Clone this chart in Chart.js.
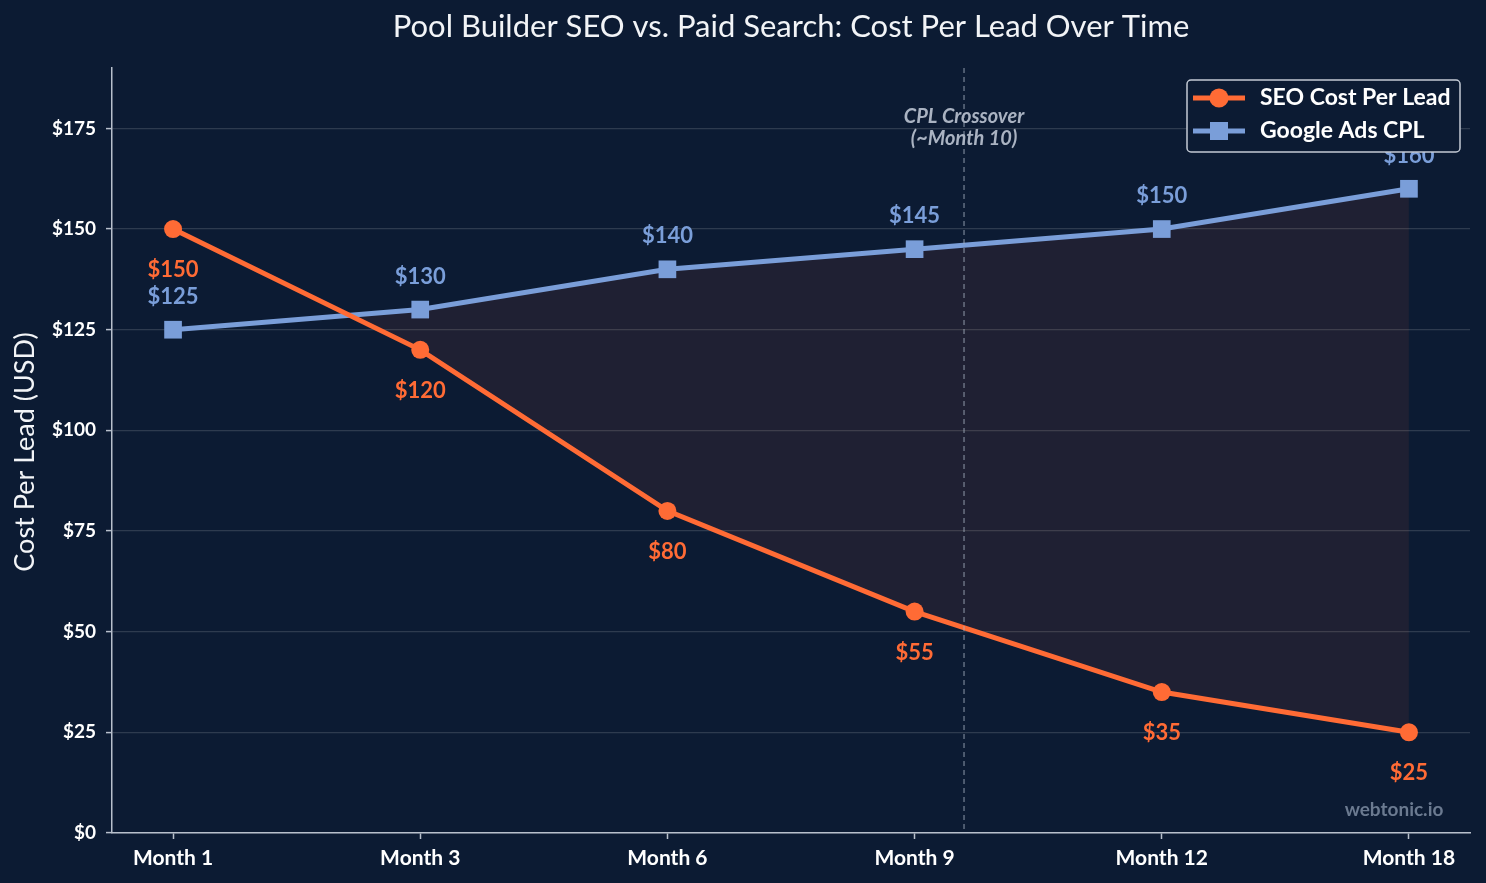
<!DOCTYPE html>
<html>
<head>
<meta charset="utf-8">
<script src="https://cdn.jsdelivr.net/npm/chart.js@4"></script>
<style>
html,body{margin:0;padding:0;background:#0c1b33;}
#wrap{width:1486px;height:883px;position:relative;}
</style>
</head>
<body>
<div id="wrap"><canvas id="c" width="1486" height="883"></canvas></div>
<script>
const categories = ["Month 1", "Month 3", "Month 6", "Month 9", "Month 12", "Month 18"];
const seoCPL = [150, 120, 80, 55, 35, 25];
const adsCPL = [125, 130, 140, 145, 150, 160];
const yTicks = [0, 25, 50, 75, 100, 125, 150, 175];
const crossoverIndex = 3.2;
const titleText = "Pool Builder SEO vs. Paid Search: Cost Per Lead Over Time";
const yAxisTitle = "Cost Per Lead (USD)";
const crossoverLabel = ["CPL Crossover", "(~Month 10)"];
const watermark = "webtonic.io";

const BG = "#0c1b33";
const ORANGE = "#ff6b35";
const BLUE = "#7a9ed9";
const AXIS = "#b8c0cc";
const FONT = "Lato, 'Open Sans', sans-serif";

const toPts = arr => arr.map((v, i) => ({x: i, y: v}));

const decor = {
  id: 'decor',
  beforeDraw(chart) {
    const ctx = chart.ctx;
    ctx.save();
    ctx.fillStyle = BG;
    ctx.fillRect(0, 0, chart.width, chart.height);
    ctx.restore();
  },
  afterDatasetsDraw(chart) {
    const ctx = chart.ctx;
    const xs = chart.scales.x, ys = chart.scales.y;
    const area = chart.chartArea;
    ctx.save();
    // crossover line
    const cx = xs.getPixelForValue(crossoverIndex);
    ctx.strokeStyle = "rgba(170,180,195,0.55)";
    ctx.lineWidth = 1.5;
    ctx.setLineDash([5, 4]);
    ctx.beginPath();
    ctx.moveTo(cx, area.top);
    ctx.lineTo(cx, area.bottom);
    ctx.stroke();
    ctx.setLineDash([]);
    ctx.fillStyle = "#aab3c2";
    ctx.font = "italic bold 20px " + FONT;
    ctx.textAlign = "center";
    ctx.textBaseline = "middle";
    ctx.fillText(crossoverLabel[0], cx, 117);
    ctx.fillText(crossoverLabel[1], cx, 139);

    // data labels
    ctx.font = "bold 22px " + FONT;
    seoCPL.forEach((v, i) => {
      ctx.fillStyle = ORANGE;
      ctx.fillText("$" + v, xs.getPixelForValue(i), ys.getPixelForValue(v) + 41);
    });
    adsCPL.forEach((v, i) => {
      ctx.fillStyle = BLUE;
      ctx.fillText("$" + v, xs.getPixelForValue(i), ys.getPixelForValue(v) - 33);
    });

    // watermark
    ctx.fillStyle = "#6b7a90";
    ctx.font = "bold 19px " + FONT;
    ctx.fillText(watermark, 1394, 810);
    ctx.restore();
  },
  afterDraw(chart) {
    const ctx = chart.ctx;
    ctx.save();
    // title
    ctx.fillStyle = "#f2f4f7";
    ctx.font = "31px " + FONT;
    ctx.textAlign = "center";
    ctx.textBaseline = "middle";
    ctx.fillText(titleText, 791, 27);
    // y title
    ctx.save();
    ctx.translate(25, 452);
    ctx.rotate(-Math.PI / 2);
    ctx.font = "27px " + FONT;
    ctx.fillText(yAxisTitle, 0, 0);
    ctx.restore();

    // legend
    const bx = 1187, by = 80, bw = 273, bh = 72;
    ctx.fillStyle = BG;
    ctx.strokeStyle = "#c3cad5";
    ctx.lineWidth = 1.5;
    ctx.beginPath();
    ctx.roundRect(bx, by, bw, bh, 4);
    ctx.fill();
    ctx.stroke();
    const items = [
      {label: chart.data.datasets[0].label, color: ORANGE, shape: 'circle', y: 98},
      {label: chart.data.datasets[1].label, color: BLUE, shape: 'square', y: 131}
    ];
    items.forEach(it => {
      ctx.strokeStyle = it.color;
      ctx.fillStyle = it.color;
      ctx.lineWidth = 5;
      ctx.beginPath();
      ctx.moveTo(1193, it.y);
      ctx.lineTo(1245, it.y);
      ctx.stroke();
      if (it.shape === 'circle') {
        ctx.beginPath();
        ctx.arc(1219, it.y, 9.5, 0, Math.PI * 2);
        ctx.fill();
      } else {
        ctx.fillRect(1210, it.y - 9, 18, 18);
      }
      ctx.fillStyle = "#ffffff";
      ctx.font = "bold 23px " + FONT;
      ctx.textAlign = "left";
      ctx.fillText(it.label, 1260, it.y);
    });
    ctx.restore();
  }
};

new Chart(document.getElementById('c'), {
  type: 'line',
  data: {
    datasets: [
      {
        label: "SEO Cost Per Lead",
        data: toPts(seoCPL),
        borderColor: ORANGE,
        backgroundColor: ORANGE,
        borderWidth: 5,
        pointStyle: 'circle',
        pointRadius: 9,
        pointHoverRadius: 9,
        pointBorderWidth: 0,
        fill: false,
        tension: 0,
        order: 1
      },
      {
        label: "Google Ads CPL",
        data: toPts(adsCPL),
        borderColor: BLUE,
        backgroundColor: BLUE,
        borderWidth: 5,
        pointStyle: 'rect',
        pointRadius: 12.5,
        pointHoverRadius: 12.5,
        pointBorderWidth: 0,
        fill: {target: 0, above: "rgba(255,107,53,0.08)", below: "rgba(0,0,0,0)"},
        tension: 0,
        order: 2
      }
    ]
  },
  options: {
    responsive: false,
    animation: false,
    devicePixelRatio: 1,
    layout: {padding: {top: 68, right: 16, left: 0, bottom: 0}},
    plugins: {
      legend: {display: false},
      title: {display: false},
      tooltip: {enabled: false},
      filler: {propagate: false}
    },
    scales: {
      x: {
        type: 'linear',
        min: -0.247,
        max: 5.247,
        afterBuildTicks: s => { s.ticks = categories.map((c, i) => ({value: i})); },
        afterFit: s => { s.height = 50; },
        ticks: {
          callback: v => categories[v],
          color: "#ffffff",
          font: {family: FONT, size: 21, weight: 'bold'},
          padding: 7,
          maxRotation: 0,
          autoSkip: false
        },
        grid: {drawOnChartArea: false, tickLength: 6, tickColor: AXIS, tickWidth: 1.5},
        border: {color: AXIS, width: 1.5}
      },
      y: {
        min: 0,
        max: 190,
        afterBuildTicks: s => { s.ticks = yTicks.map(v => ({value: v})); },
        afterFit: s => { s.width = 112; },
        ticks: {
          callback: v => "$" + v,
          color: "#ffffff",
          font: {family: FONT, size: 19, weight: 'bold'},
          padding: 10
        },
        grid: {color: "rgba(255,255,255,0.14)", lineWidth: 1.2, tickLength: 6, tickColor: AXIS, tickWidth: 1.5},
        border: {color: AXIS, width: 1.5}
      }
    }
  },
  plugins: [decor]
});
</script>
</body>
</html>
